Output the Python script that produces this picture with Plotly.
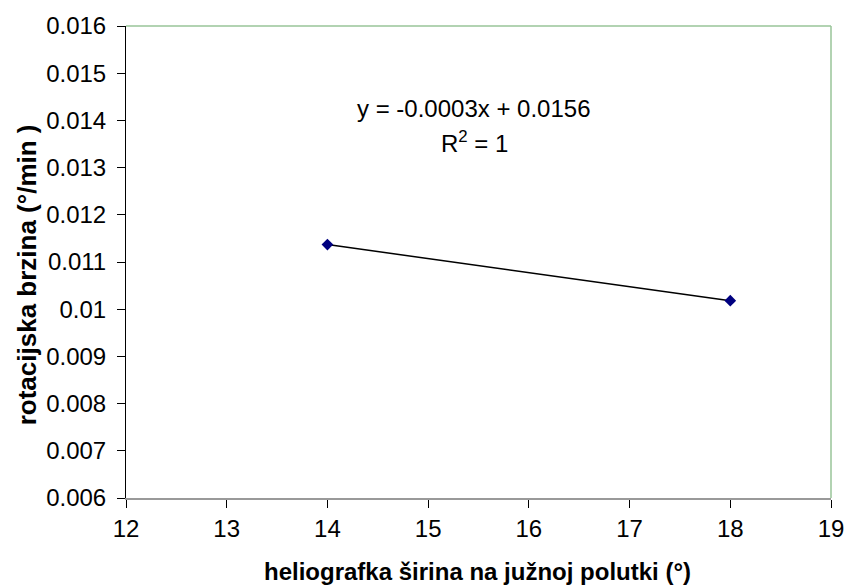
import plotly.graph_objects as go

latitude = [14, 18]
speed = [0.01137, 0.01018]
x_ticks = [12, 13, 14, 15, 16, 17, 18, 19]
y_ticks = [0.006, 0.007, 0.008, 0.009, 0.01, 0.011, 0.012, 0.013, 0.014, 0.015, 0.016]
y_tick_labels = ["0.006", "0.007", "0.008", "0.009", "0.01", "0.011", "0.012", "0.013", "0.014", "0.015", "0.016"]
eq_text = "y = -0.0003x + 0.0156"
r2_text = "R<sup>2</sup> = 1"
x_title = "heliografka širina na južnoj polutki (°)"
y_title = "rotacijska brzina (°/min )"

FONT = "Liberation Sans, Arial, sans-serif"

W, H = 856, 587
l, r, t, b = 126, 15, 22, 89
pw, ph = W - l - r, H - t - b


def px(x):
    return (x - l) / pw


def py(y):
    return (H - b - y) / ph


fig = go.Figure()
fig.add_trace(go.Scatter(
    x=latitude, y=speed, mode="lines+markers",
    line=dict(color="black", width=1.5),
    marker=dict(symbol="diamond", color="#000080", size=9),
    showlegend=False, cliponaxis=False,
))

fig.update_layout(
    width=W, height=H,
    margin=dict(l=l, r=r, t=t, b=b),
    paper_bgcolor="white", plot_bgcolor="white",
    font=dict(family=FONT, size=24, color="black"),
    xaxis=dict(
        range=[12, 19], tickvals=x_ticks, ticks="outside", ticklen=8,
        tickcolor="black", tickwidth=1, showgrid=False, zeroline=False,
        showline=True, linecolor="#999999", linewidth=2,
        tickfont=dict(size=24), ticklabeloverflow="allow",
    ),
    yaxis=dict(
        range=[0.006, 0.016], tickvals=y_ticks, ticktext=y_tick_labels,
        ticks="outside", ticklen=8, tickcolor="black", tickwidth=1,
        showgrid=False, zeroline=False, showline=True, linecolor="black",
        linewidth=1, tickfont=dict(size=24), ticklabelstandoff=6,
        ticklabeloverflow="allow",
    ),
    shapes=[
        dict(type="line", xref="paper", yref="paper", x0=0, x1=1, y0=1, y1=1,
             line=dict(color="#99c499", width=1.5)),
        dict(type="line", xref="paper", yref="paper", x0=1, x1=1, y0=0, y1=1,
             line=dict(color="#99c499", width=1.5)),
    ],
    annotations=[
        dict(text=eq_text, x=px(479), y=py(105), font=dict(size=24)),
        dict(text=r2_text, x=px(479), y=py(139), font=dict(size=24)),
        dict(text="<b>" + x_title + "</b>", x=px(482), y=py(572), font=dict(size=24)),
        dict(text="<b>" + y_title + "</b>", x=px(25), y=py(273), textangle=-90, font=dict(size=26)),
    ],
)
fig.update_annotations(xref="paper", yref="paper", showarrow=False,
                       xanchor="center", yanchor="middle")

post = (
    "var gd=document.getElementById('{plot_id}');"
    "gd.style.overflow='hidden';"
    "if(gd.parentNode){gd.parentNode.style.overflow='hidden';gd.parentNode.style.width='856px';gd.parentNode.style.height='587px';}"
    "document.documentElement.style.overflow='hidden';"
    "document.body.style.margin='0';document.body.style.overflow='hidden';"
)

fig.write_html("out.html", config={"displayModeBar": False}, post_script=post)
